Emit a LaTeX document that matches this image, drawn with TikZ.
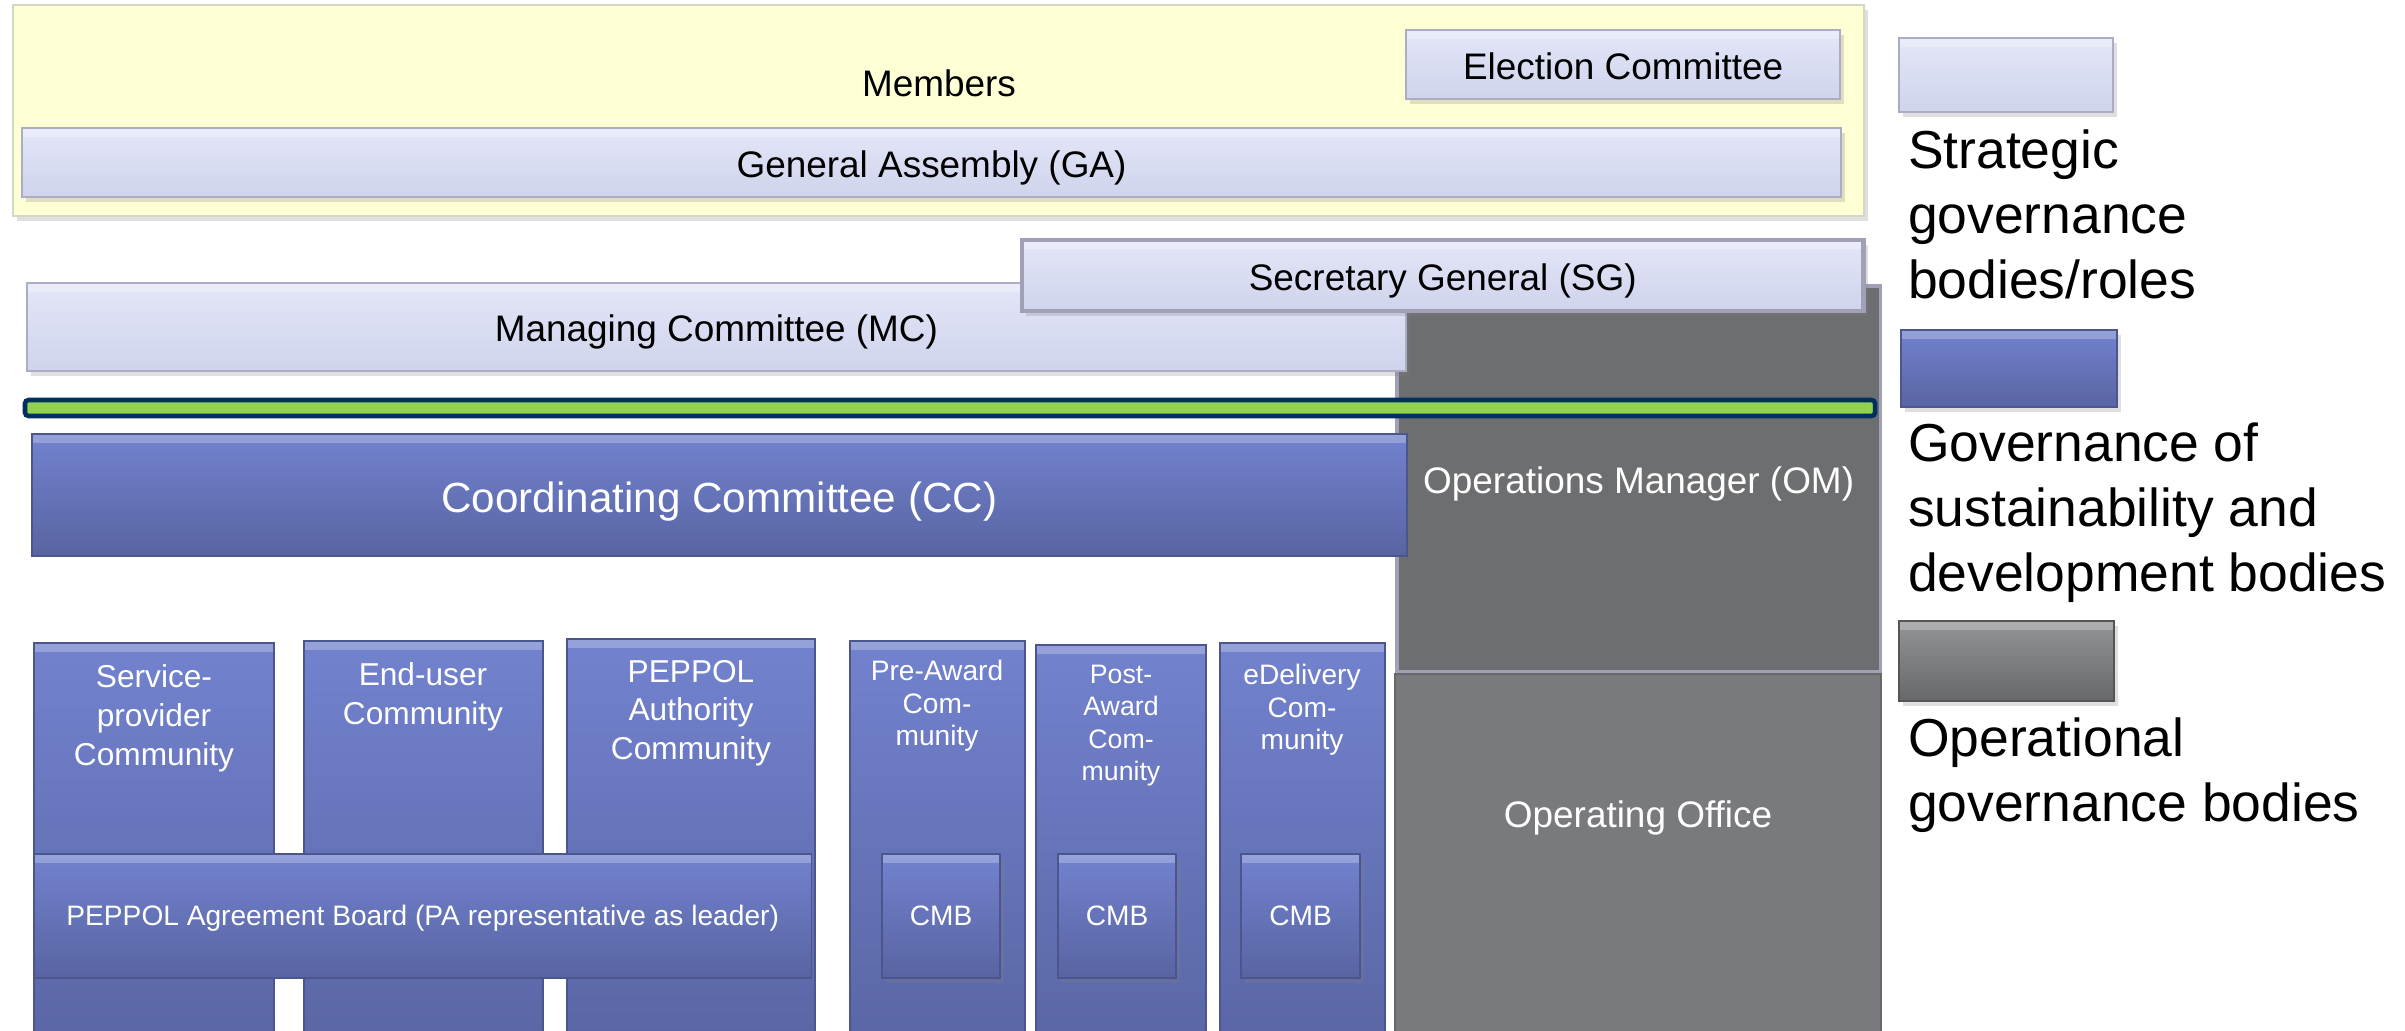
\documentclass[tikz,border=0pt]{standalone}
\usepackage{fontspec}
\setmainfont{Liberation Sans}
\usetikzlibrary{shadows}
\definecolor{lavtop}{RGB}{228,231,248}
\definecolor{lavbot}{RGB}{207,211,236}
\definecolor{lavedge}{RGB}{170,173,196}
\definecolor{membfill}{RGB}{255,255,214}
\definecolor{membedge}{RGB}{214,214,196}
\definecolor{bluetop}{RGB}{114,130,206}
\definecolor{bluebot}{RGB}{88,100,162}
\definecolor{blueedge}{RGB}{76,86,140}
\definecolor{omgray}{RGB}{109,110,112}
\definecolor{officegray}{RGB}{121,122,125}
\definecolor{omedge}{RGB}{160,160,182}
\definecolor{barnavy}{RGB}{0,48,96}
\definecolor{bargreen}{RGB}{146,208,80}
\begin{document}
\begin{tikzpicture}[x=0.01cm,y=-0.01cm]
\clip (0,0) rectangle (2405,1031);
\fill[white] (0,0) rectangle (2405,1031);
\tikzstyle{every node}=[inner sep=0pt,outer sep=0pt,anchor=north west];
\tikzstyle{boxshadow}=[drop shadow={shadow xshift=1.2pt,shadow yshift=-1.4pt,opacity=.25}];
\tikzstyle{bevel}=[path picture={\fill[white,opacity=.25] (path picture bounding box.north west) rectangle ([yshift=-2.5pt]path picture bounding box.north east);}];
\tikzstyle{strategic}=[draw=lavedge,line width=0.6pt,top color=lavtop,bottom color=lavbot,bevel,boxshadow,font=\fontsize{10.5}{12.6}\selectfont,text height=8.4pt,text depth=0pt];
\tikzstyle{devbody}=[draw=blueedge,line width=0.5pt,top color=bluetop,bottom color=bluebot,bevel,text=white];
\tikzstyle{coltext}=[anchor=north,align=center,text=white];
\tikzstyle{legendtext}=[align=left,font=\fontsize{15.2}{18.4}\selectfont];
% strategic level
\path (13,5) node[fill=membfill,draw=membedge,line width=0.6pt,boxshadow,minimum width=18.50cm,minimum height=2.11cm] (members) {};
\path (939,97) node[anchor=base,font=\fontsize{10.5}{12.6}\selectfont] (memberslabel) {Members};
\path (1406,30) node[strategic,minimum width=4.34cm,minimum height=0.69cm] (election) {Election Committee};
\path (22,128) node[strategic,minimum width=18.18cm,minimum height=0.69cm] (ga) {General Assembly (GA)};
% operations manager sits behind MC and SG
\path (1397,286) node[fill=omgray,draw=omedge,line width=1pt,text=white,font=\fontsize{10.5}{12.6}\selectfont,text height=8pt,text depth=0pt,minimum width=4.83cm,minimum height=3.86cm] (om) {Operations Manager (OM)};
\path (1395,674) node[fill=officegray,draw=officegray!85!black,line width=0.5pt,minimum width=4.86cm,minimum height=4.00cm] (office) {};
\path (1638,828) node[anchor=base,text=white,font=\fontsize{10.5}{12.6}\selectfont] (officelabel) {Operating Office};
\path (27,283) node[strategic,minimum width=13.78cm,minimum height=0.88cm] (mc) {Managing Committee (MC)};
\path (1022,240) node[strategic,draw=omedge,line width=1.2pt,minimum width=8.41cm,minimum height=0.71cm] (sg) {Secretary General (SG)};
\path (25,400) node[fill=bargreen,draw=barnavy,line width=1.3pt,rounded corners=1pt,minimum width=18.49cm,minimum height=0.16cm] (bar) {};
\path (32,434) node[devbody,font=\fontsize{12}{14}\selectfont,text height=10pt,text depth=0pt,minimum width=13.74cm,minimum height=1.22cm] (cc) {Coordinating Committee (CC)};
% communities
\path (34,643) node[devbody,minimum width=2.40cm,minimum height=4.3cm] (sp) {};
\path (304,641) node[devbody,minimum width=2.39cm,minimum height=4.3cm] (eu) {};
\path (567,639) node[devbody,minimum width=2.48cm,minimum height=4.3cm] (pa) {};
\path (850,641) node[devbody,minimum width=1.75cm,minimum height=4.3cm] (pre) {};
\path (1036,645) node[devbody,minimum width=1.70cm,minimum height=4.3cm] (post) {};
\path (1220,643) node[devbody,minimum width=1.65cm,minimum height=4.3cm] (edel) {};
\path (154,665) node[coltext,font=\fontsize{9}{11}\selectfont] (splabel) {Service-\\provider\\Community};
\path (423,663) node[coltext,font=\fontsize{9}{11}\selectfont] (eulabel) {End-user\\Community};
\path (691,660) node[coltext,font=\fontsize{9}{11}\selectfont] (palabel) {PEPPOL\\Authority\\Community};
\path (937,660) node[coltext,font=\fontsize{8}{9.3}\selectfont] (prelabel) {Pre-Award\\Com-\\munity};
\path (1121,665) node[coltext,font=\fontsize{7.6}{9.2}\selectfont] (postlabel) {Post-\\Award\\Com-\\munity};
\path (1302,664) node[coltext,font=\fontsize{8}{9.3}\selectfont] (edellabel) {eDelivery\\Com-\\munity};
% boards
\path (34,854) node[devbody,font=\fontsize{8}{9.6}\selectfont,text height=5.6pt,text depth=0pt,minimum width=7.77cm,minimum height=1.24cm] (board) {PEPPOL Agreement Board (PA representative as leader)};
\foreach \x/\w/\n in {882/1.18/precmb,1058/1.18/postcmb,1241/1.19/edelcmb}
  \path (\x,854) node[devbody,boxshadow,font=\fontsize{8}{9.6}\selectfont,minimum width=\w cm,minimum height=1.24cm] (\n) {CMB};
% legend
\path (1899,38) node[strategic,minimum width=2.14cm,minimum height=0.74cm] (legstrat) {};
\path (1908,130) node[legendtext] (legstratlabel) {Strategic\\governance\\bodies/roles};
\path (1901,330) node[devbody,boxshadow,minimum width=2.16cm,minimum height=0.77cm] (legdev) {};
\path (1908,423) node[legendtext] (legdevlabel) {Governance of\\sustainability and\\development bodies};
\path (1899,621) node[top color=officegray!80!white,bottom color=officegray!85!black,draw=officegray!70!black,line width=0.5pt,bevel,boxshadow,minimum width=2.15cm,minimum height=0.80cm] (legop) {};
\path (1908,718) node[legendtext] (legoplabel) {Operational\\governance bodies};
\end{tikzpicture}
\end{document}
